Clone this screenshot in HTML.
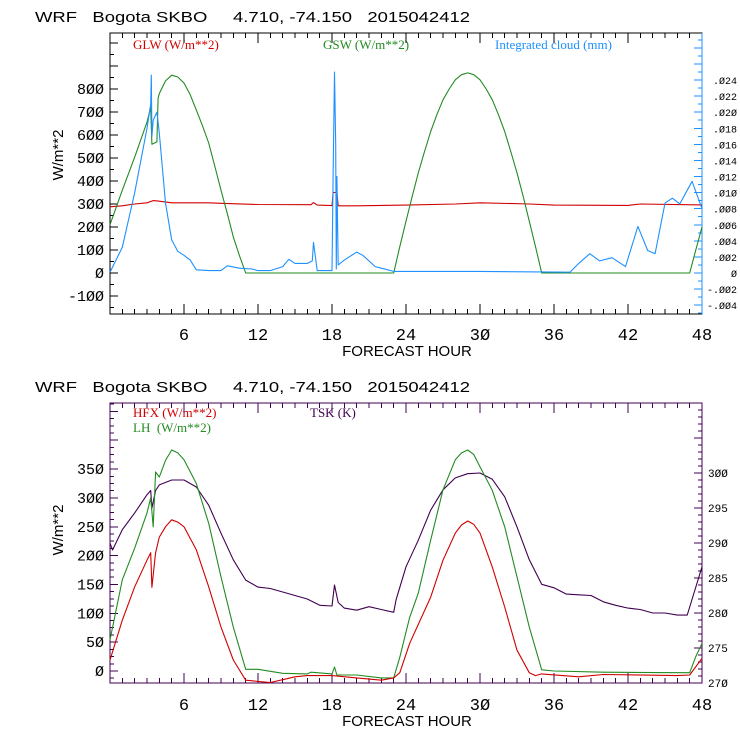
<!DOCTYPE html>
<html><head><meta charset="utf-8"><style>
html,body{margin:0;padding:0;background:#fff;}
svg{display:block;font-family:"Liberation Mono",monospace;}
text{white-space:pre;}
.lab{font-family:"Liberation Sans",sans-serif;font-size:15px;fill:#000;}
.leg{font-family:"Liberation Serif",serif;font-size:13px;}
</style></head><body>
<svg id="c" width="740" height="740" viewBox="0 0 740 740" xmlns="http://www.w3.org/2000/svg" xml:space="preserve">
<text class="lab" x="35" y="22" font-size="18" textLength="435" lengthAdjust="spacingAndGlyphs">WRF   Bogota SKBO     4.710, -74.150   2015042412</text>
<text class="lab" x="35" y="392" font-size="18" textLength="435" lengthAdjust="spacingAndGlyphs">WRF   Bogota SKBO     4.710, -74.150   2015042412</text>
<text class="leg" x="133" y="49" fill="#d00000">GLW (W/m**2)</text>
<text class="leg" x="323" y="49" fill="#228b22">GSW (W/m**2)</text>
<text class="leg" x="495" y="49" fill="#1e90ff">Integrated cloud (mm)</text>
<text class="leg" x="133" y="417" fill="#d00000">HFX (W/m**2)</text>
<text class="leg" x="133" y="432" fill="#228b22">LH  (W/m**2)</text>
<text class="leg" x="310" y="417" fill="#400050">TSK (K)</text>
<text class="lab" font-size="17" transform="translate(63,155) rotate(-90)" text-anchor="middle">W/m**2</text>
<text class="lab" font-size="17" transform="translate(63,530) rotate(-90)" text-anchor="middle">W/m**2</text>
<text class="lab" x="407" y="356" font-size="16" text-anchor="middle">FORECAST HOUR</text>
<text class="lab" x="407" y="726" font-size="16" text-anchor="middle">FORECAST HOUR</text>
</svg>
<script>
// ---- data ----
const gswT=[0,1,2,3,3.3,3.4,3.8,3.9,4,4.5,5,5.5,6,6.5,7,7.5,8,8.5,9,9.5,10,10.5,11,23,23.5,24,24.5,25,25.5,26,26.5,27,27.5,28,28.5,29,29.5,30,30.5,31,31.5,32,32.5,33,33.5,34,34.5,35,47,47.5,48];
const gswV=[210,360,504,656,720,560,570,760,780,835,860,852,826,775,709,640,565,465,360,260,157,75,0,0,115,225,333,435,528,615,688,753,800,840,862,870,862,840,800,753,688,615,528,435,333,225,115,0,0,100,200];
const glwT=[0,1,2,3,3.5,4,5,8,9,12,16.3,16.5,16.8,18,18.1,18.4,18.5,20,24,28,30,34,36,42,43,48];
const glwV=[288,292,300,305,315,312,305,305,303,298,297,306,295,293,350,350,292,292,295,300,305,300,295,294,300,296];
const cldT=[0,1,2,3,3.3,3.35,3.4,3.5,3.8,4,4.5,5,5.5,6,6.5,7,8,9,9.5,10.5,11.5,12,13,14,14.5,15,16,16.4,16.5,16.8,17,18,18.1,18.2,18.3,18.35,18.4,18.5,19,20,20.5,21.5,22,23,30,37.3,38,38.9,39.7,40.7,41.8,42.8,43.6,44.2,45,45.6,46.2,47.2,48];
const cldV=[0.0001,0.0032,0.010,0.018,0.021,0.0246,0.017,0.019,0.020,0.0174,0.0087,0.0041,0.0027,0.0022,0.0016,0.0004,0.0003,0.0003,0.0009,0.0006,0.0005,0.0003,0.0003,0.0008,0.0017,0.0012,0.0012,0.0015,0.0038,0.0003,0.0003,0.0003,0.013,0.025,0.016,0.0005,0.012,0.001,0.0016,0.0026,0.0022,0.0008,0.0006,0.0002,0.0002,0.0001,0.0012,0.0024,0.0015,0.0019,0.0008,0.0058,0.0028,0.0024,0.0087,0.0093,0.0086,0.0114,0.0080];
const lhT=[0,1,2,3,3.3,3.5,3.7,4,4.5,5,5.5,6,7,8,9,10,11,12,14,16,16.3,18,18.2,18.4,20,22,23,23.5,24.3,25,26,27,28,28.5,29,29.5,30,31,32,33,34,35,36,40,46,47,47.5,48];
const lhV=[54,158,213,274,300,250,345,336,365,383,378,366,325,256,163,76,3,3,-4,-5,-2,-5,7,-7,-7,-12,-12,24,93,135,227,314,366,378,383,375,354,313,250,163,76,2,0,-2,-3,-3,25,48];
const hfxT=[0,1,2,3,3.3,3.4,3.7,4,4.5,5,5.5,6,7,8,9,10,11,12,13,14,15,16,18,20,22,23,23.5,24.3,26,27,28,28.5,29,29.5,30,31,32,33,34,34.5,35,38,40,46,47,48];
const hfxV=[19,88,146,192,205,145,205,232,250,262,258,250,210,146,76,19,-16,-18,-20,-15,-10,-8,-8,-12,-16,-12,-3,48,128,192,239,253,260,254,239,180,111,36,-3,-8,-5,-10,-6,-8,-7,22];
const tskT=[0,0.2,1,2,3,3.3,3.4,3.7,4,5,6,7,8,9,10,11,12,13,14,15,16,17,18,18.2,18.5,19,20,21,22,23,23.2,24,25,26,27,28,29,30,31,32,33,34,35,36,37,38,39,40,41,42,43,44,45,46,46.8,47.5,48];
const tskV=[290,289,291.9,294.3,296.9,297.5,295,297.5,298.3,299,299,298,295.4,291.4,287.6,284.7,283.7,283.5,283,282.5,282,281.1,281,284,281.5,280.7,280.4,280.9,280.5,280.1,281.9,286.6,290.4,294.7,297.6,299.3,299.9,300,299.1,296.6,292.3,287.6,284.1,283.6,282.7,282.6,282.5,281.6,281.1,280.7,280.5,280,280,279.7,279.7,283.7,286.6];
const xTicks=[6,12,18,24,30,36,42,48];
const topYTicks=[-100,0,100,200,300,400,500,600,700,800];
const topRTicks=[-0.004,-0.002,0,0.002,0.004,0.006,0.008,0.010,0.012,0.014,0.016,0.018,0.020,0.022,0.024];
const botYTicks=[0,50,100,150,200,250,300,350];
const botRTicks=[270,275,280,285,290,295,300];

// ---- scales ----
const X0=110,X1=702;
const x=h=>X0+(X1-X0)*h/48;
const yTop=v=>273-v*0.23;
const yCld=v=>273-v*1000*8.04;
const yBot=v=>671-v*0.577;
const yTsk=v=>683-(v-270)*7;
const svg=document.getElementById('c');
const NS='http://www.w3.org/2000/svg';
function mk(tag,attrs,name){const e=document.createElementNS(NS,tag);for(const k in attrs)e.setAttribute(k,attrs[k]);


svg.appendChild(e);return e;}
function line(x1,y1,x2,y2,c,name){return mk('line',{x1,y1,x2,y2,stroke:c,'stroke-width':1,'shape-rendering':'crispEdges'},name);}
function txt(s,xx,yy,anchor,size,name){const t=mk('text',{x:xx,y:yy,'text-anchor':anchor,'font-size':size,fill:'#000'},name);t.textContent=s;return t;}
function series(T,V,xs,ys,c,name){const pts=T.map((t,i)=>xs(t).toFixed(1)+','+ys(V[i]).toFixed(1)).join(' ');
mk('polyline',{points:pts,fill:'none',stroke:c,'stroke-width':1.1,'stroke-linejoin':'round'},name);}
function z(s){return s.replace(/0/g,'\u00d8');}
function fmt(v){let s=Math.abs(v).toFixed(3).replace('0.','.');if(v===0)s='0';return (v<0?'-':'')+z(s);}

// ---- top panel ----
const TT=33,TB=314;
mk('rect',{x:X0,y:TT,width:X1-X0,height:TB-TT,fill:'none',stroke:'#000','stroke-width':1,'shape-rendering':'crispEdges'},'top-plot-frame');
line(X1,TT,X1,TB,'#1e90ff','top-right-axis');
for(let h=1;h<48;h++){const L=(h%6===0)?10:5;line(x(h),TB,x(h),TB-L,'#000','top-x-tick');line(x(h),TT,x(h),TT+L,'#000','top-x-tick-top');}
xTicks.forEach(h=>txt(z(String(h)),x(h),340,'middle',17,'top-x-tick-label'));
for(let v=-150;v<=1000;v+=50){const yy=yTop(v);if(yy<TT||yy>TB)continue;line(X0,yy,X0+(v%100===0?8:4),yy,'#000','top-y-tick');}
topYTicks.forEach(v=>txt(z(String(v)),104,yTop(v)+5,'end',15,'top-y-tick-label'));
for(let k=-5;k<=29;k++){const yy=yCld(k*0.001);if(yy<TT||yy>TB)continue;line(X1-(k%2===0?8:4),yy,X1,yy,'#1e90ff','top-right-tick');}
topRTicks.forEach(v=>{txt(fmt(v),737,yCld(v)+4,'end',10,'top-right-tick-label');});
series(glwT,glwV,x,yTop,'#d00000','glw-line');
series(gswT,gswV,x,yTop,'#228b22','gsw-line');
series(cldT,cldV,x,yCld,'#1e90ff','cloud-line');

// ---- bottom panel ----
const BT=403,BB=683;
mk('rect',{x:X0,y:BT,width:X1-X0,height:BB-BT,fill:'none',stroke:'#400050','stroke-width':1,'shape-rendering':'crispEdges'},'bottom-plot-frame');
for(let h=1;h<48;h++){const L=(h%6===0)?10:5;line(x(h),BB,x(h),BB-L,'#400050','bottom-x-tick');line(x(h),BT,x(h),BT+L,'#400050','bottom-x-tick-top');}
xTicks.forEach(h=>txt(z(String(h)),x(h),710,'middle',17,'bottom-x-tick-label'));
for(let v=-12.5;v<=475;v+=12.5){const yy=yBot(v);if(yy<BT||yy>BB)continue;line(X0,yy,X0+(v%50===0?8:4),yy,'#400050','bottom-y-tick');}
botYTicks.forEach(v=>txt(z(String(v)),104,yBot(v)+5,'end',15,'bottom-y-tick-label'));
for(let k=270;k<=310;k++){const yy=yTsk(k);if(yy<BT||yy>BB)continue;line(X1-(k%5===0?8:4),yy,X1,yy,'#400050','bottom-right-tick');}
botRTicks.forEach(v=>txt(z(String(v)),708,yTsk(v)+4,'start',11,'bottom-right-tick-label'));
series(tskT,tskV,x,yTsk,'#400050','tsk-line');
series(lhT,lhV,x,yBot,'#228b22','lh-line');
series(hfxT,hfxV,x,yBot,'#d00000','hfx-line');
</script>
</body></html>
